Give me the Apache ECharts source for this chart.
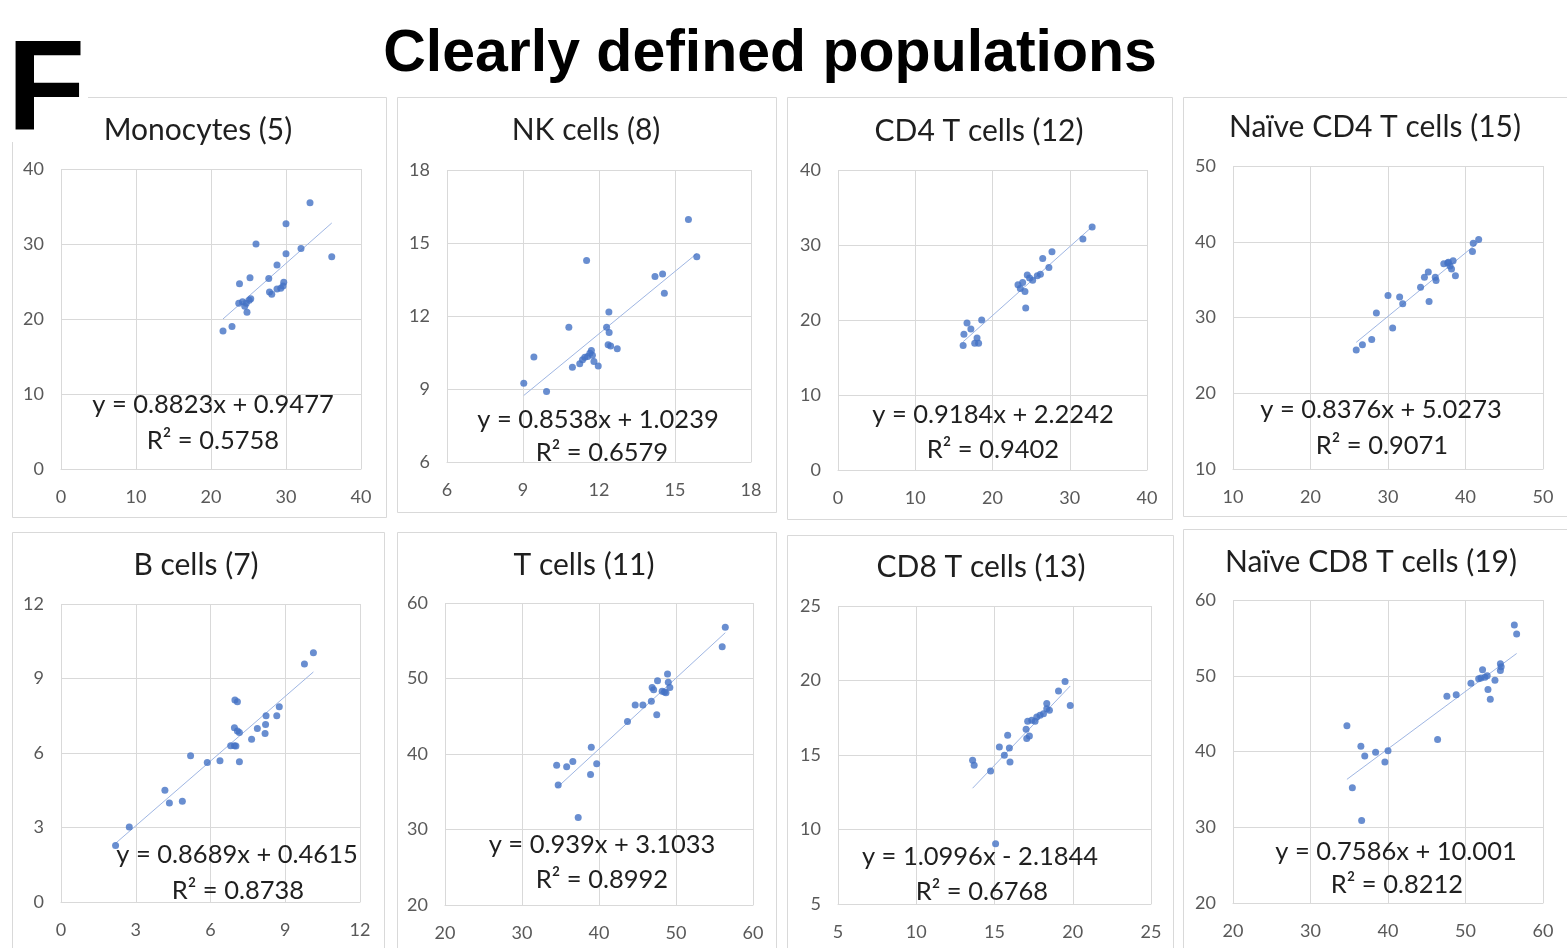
<!DOCTYPE html>
<html>
<head>
<meta charset="utf-8">
<script src="https://cdn.jsdelivr.net/npm/echarts@6/dist/echarts.min.js"></script>
<style>
  html, body { margin: 0; padding: 0; background: #ffffff; }
  #chart { width: 1567px; height: 948px; }
</style>
</head>
<body>
<div id="chart"></div>
<script>
// ---- Data -----------------------------------------------------------------
const figureLetter = 'F';
const figureTitle = 'Clearly defined populations';

const panelNames = [
  'Monocytes (5)', 'NK cells (8)', 'CD4 T cells (12)', 'Naïve CD4 T cells (15)',
  'B cells (7)', 'T cells (11)', 'CD8 T cells (13)', 'Naïve CD8 T cells (19)'
];

const monocytes = [
  [21.6, 18.4], [22.8, 19.0], [23.8, 24.7], [25.2, 25.5], [26.0, 30.0],
  [23.7, 22.1], [24.2, 22.3], [24.5, 21.7], [24.8, 20.9], [25.1, 22.5],
  [25.3, 22.7], [24.7, 22.1], [27.7, 25.4], [27.8, 23.6], [28.1, 23.3],
  [28.8, 27.2], [28.8, 24.0], [29.3, 24.1], [29.7, 24.9], [30.0, 28.7],
  [30.0, 32.7], [32.0, 29.4], [33.2, 35.5], [36.1, 28.3], [29.6, 24.4]
];
const nkCells = [
  [9.03, 9.24], [9.43, 10.31], [9.93, 8.90], [10.81, 11.54], [10.95, 9.89],
  [11.24, 10.04], [11.35, 10.20], [11.44, 10.30], [11.55, 10.34], [11.64, 10.47],
  [11.70, 10.58], [11.74, 10.39], [11.80, 10.13], [11.97, 9.95], [11.51, 14.28],
  [12.30, 11.54], [12.40, 11.32], [12.39, 12.16], [12.36, 10.82], [12.46, 10.77],
  [12.72, 10.65], [14.21, 13.62], [14.51, 13.73], [14.58, 12.94], [15.53, 15.97],
  [15.86, 14.44]
];
const cd4TCells = [
  [16.2, 16.6], [16.3, 18.1], [16.7, 19.6], [17.2, 18.8], [17.7, 16.9],
  [18.0, 17.6], [18.2, 16.9], [18.6, 20.0], [23.3, 24.7], [23.6, 24.2],
  [24.2, 23.8], [24.3, 21.6], [24.5, 26.0], [24.8, 25.6], [25.2, 25.3],
  [25.8, 25.9], [26.2, 26.1], [26.5, 28.2], [27.3, 27.0], [27.7, 29.1],
  [31.7, 30.8], [32.9, 32.4], [23.9, 25.0]
];
const naiveCd4TCells = [
  [25.9, 25.7], [26.7, 26.4], [27.9, 27.1], [28.5, 30.6], [30.0, 32.9],
  [30.6, 28.6], [31.5, 32.7], [31.9, 31.8], [34.2, 34.0], [34.7, 35.3],
  [35.2, 36.0], [35.3, 32.1], [36.1, 35.3], [36.2, 34.9], [37.2, 37.1],
  [37.7, 37.2], [38.0, 36.8], [38.2, 36.4], [38.4, 37.5], [38.7, 35.5],
  [40.9, 38.7], [41.0, 39.8], [41.7, 40.3], [37.8, 37.3]
];
const bCells = [
  [2.19, 2.28], [2.74, 3.02], [4.17, 4.50], [4.35, 3.99], [4.87, 4.06],
  [5.20, 5.89], [5.87, 5.62], [6.38, 5.69], [6.81, 6.29], [6.96, 6.29],
  [7.02, 6.28], [6.96, 7.02], [7.08, 6.89], [7.16, 6.83], [7.16, 5.65],
  [6.98, 8.13], [7.08, 8.06], [7.65, 6.55], [7.88, 6.99], [8.19, 6.79],
  [8.21, 7.15], [8.23, 7.50], [8.66, 7.50], [8.76, 7.86], [9.77, 9.58],
  [10.13, 10.04]
];
const tCells = [
  [34.5, 38.5], [34.7, 35.9], [35.8, 38.3], [36.6, 39.0], [37.3, 31.6],
  [38.9, 37.3], [39.0, 40.9], [39.7, 38.7], [43.7, 44.3], [44.7, 46.5],
  [45.7, 46.5], [46.8, 47.0], [46.9, 48.8], [47.1, 48.5], [47.5, 45.2],
  [47.6, 49.7], [48.2, 48.3], [48.5, 48.2], [48.7, 48.1], [48.9, 50.6],
  [49.0, 49.5], [49.2, 48.8], [56.0, 54.2], [56.4, 56.8]
];
const cd8TCells = [
  [13.6, 14.64], [13.7, 14.31], [14.75, 13.93], [15.07, 9.05], [15.31, 15.54],
  [15.63, 14.98], [15.84, 16.32], [15.95, 15.47], [15.99, 14.53], [17.02, 16.72],
  [17.06, 16.10], [17.23, 16.28], [17.12, 17.26], [17.38, 17.33], [17.59, 17.26],
  [17.70, 17.55], [17.91, 17.66], [18.13, 17.77], [18.34, 18.11], [18.34, 18.45],
  [18.51, 18.00], [19.09, 19.30], [19.51, 19.94], [19.84, 18.33]
];
const naiveCd8TCells = [
  [34.7, 43.4], [35.4, 35.2], [36.5, 40.7], [36.6, 30.9], [37.0, 39.4],
  [38.4, 39.9], [39.6, 38.6], [40.0, 40.1], [46.4, 41.6], [47.6, 47.3],
  [48.8, 47.5], [50.7, 49.0], [52.0, 49.7], [52.2, 50.8], [52.5, 49.8],
  [52.8, 50.0], [52.9, 48.2], [53.2, 46.9], [53.8, 49.4], [54.5, 50.7],
  [54.5, 51.6], [54.6, 51.2], [56.3, 56.7], [56.6, 55.5], [51.7, 49.6]
];

const panelData = [monocytes, nkCells, cd4TCells, naiveCd4TCells,
                   bCells, tCells, cd8TCells, naiveCd8TCells];

// Linear trendline fits (y = slope * x + intercept) and R²
const slopes     = [0.8823, 0.8538, 0.9184, 0.8376, 0.8689, 0.939, 1.0996, 0.7586];
const intercepts = [0.9477, 1.0239, 2.2242, 5.0273, 0.4615, 3.1033, -2.1844, 10.001];
const rSquared   = [0.5758, 0.6579, 0.9402, 0.9071, 0.8738, 0.8992, 0.6768, 0.8212];

// Axis ranges (same on x and y for every panel)
const axisMin      = [0, 6, 0, 10, 0, 20, 5, 20];
const axisMax      = [40, 18, 40, 50, 12, 60, 25, 60];
const axisInterval = [10, 3, 10, 10, 3, 10, 5, 10];

// ---- Layout ---------------------------------------------------------------
const layout = [
  { grid: [61, 169, 300, 300],  box: [12, 97, 374, 420],   title: [198, 130],  eq: [213, 405],  r2: [213, 441] },
  { grid: [447, 170, 304, 292], box: [397, 97, 379, 415],  title: [586, 130],  eq: [598, 420],  r2: [602, 453] },
  { grid: [838, 170, 309, 300], box: [787, 97, 385, 422],  title: [979, 131],  eq: [993, 415],  r2: [993, 450] },
  { grid: [1233, 166, 310, 303],box: [1183, 97, 390, 419], title: [1375, 127], eq: [1381, 410], r2: [1382, 446] },
  { grid: [61, 604, 299, 298],  box: [12, 532, 372, 430],  title: [196, 565],  eq: [237, 855],  r2: [238, 891] },
  { grid: [445, 603, 308, 302], box: [397, 532, 379, 430], title: [584, 565],  eq: [602, 845],  r2: [602, 880] },
  { grid: [838, 606, 313, 298], box: [787, 535, 386, 430], title: [981, 567],  eq: [980, 857],  r2: [982, 892] },
  { grid: [1233, 600, 310, 303],box: [1183, 529, 390, 430],title: [1371, 562], eq: [1396, 852], r2: [1397, 885] }
];

const FONT = 'Lato, "Open Sans", sans-serif';
const GRID_COLOR = '#d9d9d9';
const LABEL_COLOR = '#595959';
const TEXT_COLOR = '#1f1f1f';
const POINT_COLOR = '#4472C4';
const TREND_COLOR = '#9fb6e3';

function fmtEquation(m, b) {
  const sign = b < 0 ? ' - ' : ' + ';
  return 'y = ' + String(m) + 'x' + sign + String(Math.abs(b));
}

const grids = [], xAxes = [], yAxes = [], series = [], graphics = [];

panelData.forEach((pts, i) => {
  const L = layout[i];
  grids.push({
    left: L.grid[0], top: L.grid[1], width: L.grid[2], height: L.grid[3],
    containLabel: false
  });
  const axisCommon = {
    type: 'value', gridIndex: i,
    min: axisMin[i], max: axisMax[i], interval: axisInterval[i],
    splitLine: { show: true, lineStyle: { color: GRID_COLOR, width: 1 } },
    axisTick: { show: false },
    axisLabel: { color: LABEL_COLOR, fontFamily: FONT, fontSize: 18 }
  };
  xAxes.push(Object.assign({}, axisCommon, {
    axisLine: { show: true, lineStyle: { color: GRID_COLOR } },
    axisLabel: Object.assign({}, axisCommon.axisLabel, { margin: 19 })
  }));
  yAxes.push(Object.assign({}, axisCommon, {
    axisLine: { show: false },
    axisLabel: Object.assign({}, axisCommon.axisLabel, { margin: 17 })
  }));

  // trendline spans the x-range of the points
  const xs = pts.map(p => p[0]);
  const x0 = Math.min.apply(null, xs), x1 = Math.max.apply(null, xs);
  series.push({
    type: 'line', xAxisIndex: i, yAxisIndex: i,
    data: [[x0, slopes[i] * x0 + intercepts[i]], [x1, slopes[i] * x1 + intercepts[i]]],
    symbol: 'none', silent: true, z: 1,
    lineStyle: { color: TREND_COLOR, width: 1 }
  });
  series.push({
    type: 'scatter', xAxisIndex: i, yAxisIndex: i,
    data: pts, symbol: 'circle', symbolSize: 7, z: 3,
    itemStyle: { color: POINT_COLOR }
  });

  // panel frame
  graphics.push({
    type: 'rect', z: -10, silent: true,
    shape: { x: L.box[0] + 0.5, y: L.box[1] + 0.5, width: L.box[2], height: L.box[3] },
    style: { fill: '#ffffff', stroke: '#d9d9d9', lineWidth: 1 }
  });
  // panel title
  graphics.push({
    type: 'text', x: L.title[0], y: L.title[1], z: 10, silent: true,
    style: { text: panelNames[i], font: '30px ' + FONT, fill: TEXT_COLOR,
             align: 'center', verticalAlign: 'middle' }
  });
  // equation and R²
  graphics.push({
    type: 'text', x: L.eq[0], y: L.eq[1], z: 10, silent: true,
    style: { text: fmtEquation(slopes[i], intercepts[i]), font: '25.5px ' + FONT,
             fill: TEXT_COLOR, align: 'center', verticalAlign: 'middle' }
  });
  graphics.push({
    type: 'text', x: L.r2[0], y: L.r2[1], z: 10, silent: true,
    style: { text: 'R² = ' + String(rSquared[i]), font: '25.5px ' + FONT,
             fill: TEXT_COLOR, align: 'center', verticalAlign: 'middle' }
  });
});

// figure heading and panel letter
graphics.push({
  type: 'text', x: 770, y: 55, z: 20, silent: true,
  style: { text: figureTitle, font: 'bold 59px "Liberation Sans", Arial, sans-serif',
           fill: '#000000', align: 'center', verticalAlign: 'middle' }
});
graphics.push({
  type: 'rect', z: 15, silent: true,
  shape: { x: 0, y: 0, width: 88, height: 142 },
  style: { fill: '#ffffff' }
});
graphics.push({
  type: 'text', x: 7, y: 94, z: 20, silent: true,
  style: { text: figureLetter, font: 'bold 128px "Liberation Sans", Arial, sans-serif',
           fill: '#000000', align: 'left', verticalAlign: 'middle' }
});

const chart = echarts.init(document.getElementById('chart'), null, { renderer: 'canvas' });
chart.setOption({
  animation: false,
  backgroundColor: '#ffffff',
  grid: grids,
  xAxis: xAxes,
  yAxis: yAxes,
  series: series,
  graphic: { elements: graphics }
});
</script>
</body>
</html>
